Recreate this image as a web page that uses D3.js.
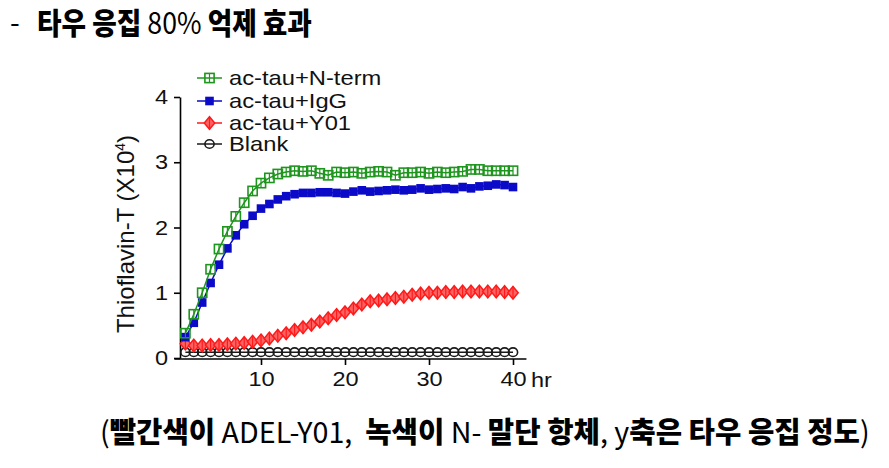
<!DOCTYPE html>
<html><head><meta charset="utf-8">
<script src="https://cdn.jsdelivr.net/npm/d3@7"></script>
<style>body{margin:0;background:#fff}svg{display:block}text{white-space:pre}</style>
</head><body><svg id="c" width="889" height="468"></svg>
<script>
const hours=[1,2,3,4,5,6,7,8,9,10,11,12,13,14,15,16,17,18,19,20,21,22,23,24,25,26,27,28,29,30,31,32,33,34,35,36,37,38,39,40];
const nterm=[0.38,0.67,1.00,1.36,1.67,1.94,2.17,2.38,2.56,2.68,2.76,2.82,2.85,2.87,2.86,2.87,2.83,2.80,2.85,2.84,2.85,2.83,2.85,2.86,2.85,2.80,2.84,2.84,2.85,2.83,2.85,2.84,2.85,2.86,2.89,2.89,2.87,2.87,2.87,2.87];
const igg=[0.32,0.54,0.85,1.15,1.43,1.68,1.88,2.05,2.18,2.29,2.36,2.43,2.48,2.51,2.53,2.53,2.54,2.54,2.53,2.52,2.55,2.57,2.55,2.56,2.57,2.58,2.57,2.58,2.60,2.58,2.59,2.60,2.59,2.62,2.60,2.63,2.64,2.66,2.65,2.62];
const y01=[0.22,0.19,0.19,0.20,0.20,0.21,0.22,0.23,0.25,0.27,0.30,0.34,0.38,0.43,0.47,0.51,0.56,0.61,0.66,0.70,0.76,0.82,0.87,0.88,0.90,0.92,0.94,0.97,0.99,1.00,1.00,1.01,1.01,1.02,1.02,1.02,1.02,1.02,1.01,1.00];
const blank=[0.09,0.09,0.09,0.09,0.09,0.09,0.09,0.09,0.09,0.09,0.09,0.09,0.09,0.09,0.09,0.09,0.09,0.09,0.09,0.09,0.09,0.09,0.09,0.09,0.09,0.09,0.09,0.09,0.09,0.09,0.09,0.09,0.09,0.09,0.09,0.09,0.09,0.09,0.09,0.09];
const seriesNames=["ac-tau+N-term","ac-tau+IgG","ac-tau+Y01","Blank"];
const xTicks=[10,20,30,40];
const yTicks=[0,1,2,3,4];
const xUnit="hr";
const yTitle="Thioflavin-T (X10";
const yTitleSup="4";
const titleDash="-";
const titleParts=[["타우 응집 ",900],["80%",400],[" 억제 효과",900]];
const captionParts=[["(",400],["빨간색이",900],[" ADEL-Y01,  ",400],["녹색이",900],[" N- ",400],["말단 항체",900],[", y",400],["축은 타우 응집 정도",900],[")",400]];

const svg=d3.select("#c");
const FONT="'Liberation Sans', Arial, sans-serif";
const KFONT="'Noto Sans CJK KR', sans-serif";
const x=d3.scaleLinear().domain([0,40]).range([177,513]);
const y=d3.scaleLinear().domain([0,4]).range([358,97]);

function stretch(sel,k){
  sel.each(function(){const w=this.getComputedTextLength();
    d3.select(this).attr("textLength",w*k).attr("lengthAdjust","spacingAndGlyphs");});
}

// axes
const ya=svg.append("g").attr("transform","translate(180,0)")
  .call(d3.axisLeft(y).tickValues(yTicks).tickFormat(d3.format("d")).tickSize(6).tickSizeOuter(0).tickPadding(6));
const xa=svg.append("g").attr("transform","translate(0,359)")
  .call(d3.axisBottom(x).tickValues(xTicks).tickFormat(d3.format("d")).tickSize(6).tickSizeOuter(0).tickPadding(6));
xa.select(".domain").attr("d",`M${x(-0.3)},0H${x(41.6)}`);
[ya,xa].forEach(a=>{
  a.selectAll("path,line").attr("stroke","#000").attr("stroke-width",1.6);
  a.selectAll("text").attr("font-family",FONT).attr("font-size",21).attr("fill","#111");
  stretch(a.selectAll("text"),1.12);
});
stretch(svg.append("text").attr("x",x(40)+18).attr("y",359+6+6+16).attr("font-family",FONT)
  .attr("font-size",21).attr("fill","#111").text(xUnit),1.12);

// y title
const yt=svg.append("text").attr("transform","translate(134,234) rotate(-90)")
  .attr("text-anchor","middle").attr("font-family",FONT).attr("font-size",24).attr("fill","#111");
yt.append("tspan").text(yTitle);
yt.append("tspan").attr("font-size",14).attr("dy",-9).text(yTitleSup);
yt.append("tspan").attr("dy",9).text(")");

// series
const GREEN="#1e961e", BLUE="#0a0ac8", RED="#ff1a1a", BLACK="#1a1a1a";
const line=d3.line().x((d,i)=>x(hours[i])).y(d=>y(d));
function drawMarker(g,type,color){
  if(type==="sq"){
    g.append("rect").attr("x",-4.6).attr("y",-4.6).attr("width",9.2).attr("height",9.2)
      .attr("fill","none").attr("stroke",color).attr("stroke-width",1.6);
    g.append("line").attr("y1",-4.6).attr("y2",4.6).attr("stroke",color).attr("stroke-width",1.2);
  } else if(type==="fsq"){
    g.append("rect").attr("x",-4.3).attr("y",-4.3).attr("width",8.6).attr("height",8.6).attr("fill",color);
  } else if(type==="dia"){
    g.append("path").attr("d","M0,-6.3L5.2,0L0,6.3L-5.2,0Z").attr("fill","#ff6464")
      .attr("stroke",color).attr("stroke-width",1.5);
    g.append("line").attr("y1",-6.3).attr("y2",6.3).attr("stroke",color).attr("stroke-width",1.2);
  } else {
    g.append("ellipse").attr("rx",4.6).attr("ry",4.3).attr("fill","none").attr("stroke",color).attr("stroke-width",1.6);
  }
}
const series=[
  {vals:blank,type:"circ",color:BLACK},
  {vals:y01,type:"dia",color:RED},
  {vals:igg,type:"fsq",color:BLUE},
  {vals:nterm,type:"sq",color:GREEN}
];
series.forEach(s=>{
  svg.append("path").attr("d",line(s.vals)).attr("fill","none").attr("stroke",s.color).attr("stroke-width",1.5);
  s.vals.forEach((v,i)=>{
    const g=svg.append("g").attr("transform",`translate(${x(hours[i])},${y(v)})`);
    drawMarker(g,s.type,s.color);
  });
});

// legend
const legOrder=[{type:"sq",color:GREEN},{type:"fsq",color:BLUE},{type:"dia",color:RED},{type:"circ",color:BLACK}];
const legY=[78,101,123,144];
seriesNames.forEach((n,i)=>{
  const g=svg.append("g").attr("transform",`translate(0,${legY[i]})`);
  g.append("line").attr("x1",197).attr("x2",222).attr("stroke",legOrder[i].color).attr("stroke-width",1.5);
  const m=g.append("g").attr("transform","translate(209.5,0)");
  drawMarker(m,legOrder[i].type,legOrder[i].color);
  stretch(g.append("text").attr("x",229).attr("y",7).attr("font-family",FONT).attr("font-size",21).attr("fill","#111").text(n),1.13);
});

// title & caption
function fitText(parts,x0,yb,width,size){
  const g=svg.append("g");
  const t=g.append("text").attr("font-family",KFONT).attr("font-size",size).attr("fill","#000");
  parts.forEach(p=>t.append("tspan").attr("font-weight",p[1]).text(p[0]));
  const w=t.node().getComputedTextLength();
  g.attr("transform",`translate(${x0},${yb}) scale(${width/w},1)`);
}
svg.append("text").attr("x",10).attr("y",33).attr("font-family",KFONT).attr("font-size",28).attr("fill","#000").text(titleDash);
fitText(titleParts,37,34,275,30);
fitText(captionParts,100,443,770,29);
</script></body></html>
